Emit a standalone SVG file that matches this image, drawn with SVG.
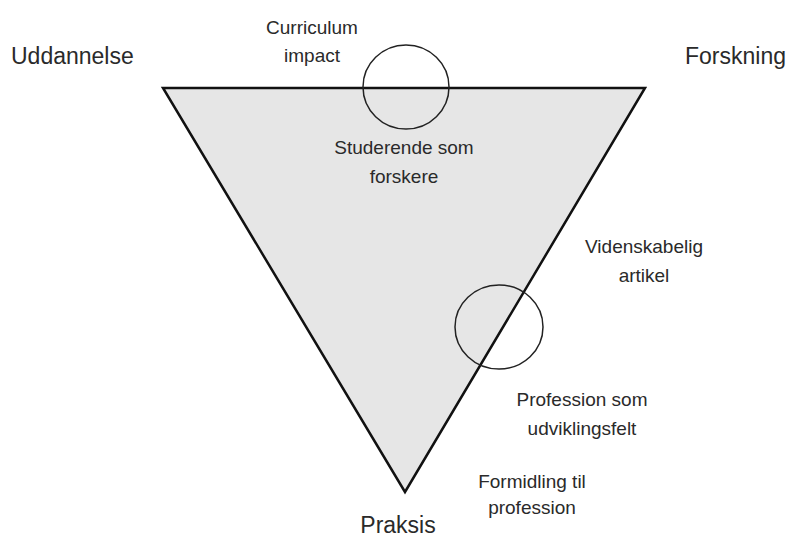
<svg xmlns="http://www.w3.org/2000/svg" width="790" height="537" viewBox="0 0 790 537">
<style>
.lbl{font-family:"Liberation Sans",Arial,sans-serif;fill:#2a2a2a;}
.big{font-size:23px;}
.sm{font-size:19px;text-anchor:middle;}
.tri{fill:#e6e6e6;stroke:#111;stroke-width:2.5;stroke-linejoin:miter;}
.circ{fill:none;stroke:#222;stroke-width:1.5;}
</style>
<rect width="790" height="537" fill="#fff"/>
<g id="triangle"><polygon class="tri" points="163,88 645,88 405,492"/></g>
<g id="connectors">
<ellipse class="circ" cx="406" cy="87" rx="43" ry="42"/>
<ellipse class="circ" cx="499" cy="327" rx="44" ry="42"/>
</g>
<g id="uddannelse"><text class="lbl big" x="11" y="64">Uddannelse</text></g>
<g id="forskning"><text class="lbl big" x="786" y="64" text-anchor="end">Forskning</text></g>
<g id="praksis"><text class="lbl big" x="398" y="533" text-anchor="middle">Praksis</text></g>
<g id="curriculum"><text class="lbl sm" x="312" y="34">Curriculum</text><text class="lbl sm" x="312" y="62">impact</text></g>
<g id="studerende"><text class="lbl sm" x="404" y="154">Studerende som</text><text class="lbl sm" x="404" y="183">forskere</text></g>
<g id="videnskabelig"><text class="lbl sm" x="644" y="253">Videnskabelig</text><text class="lbl sm" x="644" y="282">artikel</text></g>
<g id="profession"><text class="lbl sm" x="582" y="406">Profession som</text><text class="lbl sm" x="582" y="435">udviklingsfelt</text></g>
<g id="formidling"><text class="lbl sm" x="532" y="488">Formidling til</text><text class="lbl sm" x="532" y="514">profession</text></g>
</svg>
